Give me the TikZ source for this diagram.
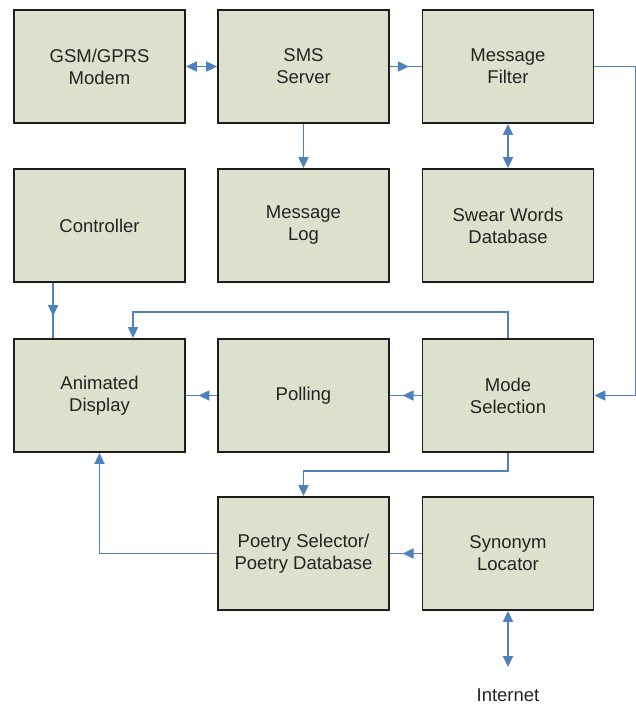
\documentclass[tikz,border=0pt]{standalone}
\usepackage{fontspec}
\setmainfont{Liberation Sans}
\usetikzlibrary{arrows.meta,decorations.markings,calc}
\definecolor{boxfill}{RGB}{221,224,204}
\definecolor{boxline}{RGB}{30,30,30}
\definecolor{connblue}{RGB}{79,129,189}
\definecolor{txt}{RGB}{35,35,35}
\begin{document}
\begin{tikzpicture}[x=1pt,y=-1pt,
  blk/.style={draw=boxline,fill=boxfill,line width=1.8pt,minimum width=171pt,minimum height=113pt,
    inner sep=0pt,align=center,font=\fontsize{18.5}{22}\selectfont,text=txt},
  conn/.style={draw=connblue,line width=1.8pt},
  tipend/.style={-{Triangle[length=11pt,width=10pt]}},
  tipboth/.style={{Triangle[length=11pt,width=10pt]}-{Triangle[length=11pt,width=10pt]}},
  midarrow/.style={decoration={markings,mark=at position 0.6 with {\arrow{Triangle[length=11pt,width=10pt]}}},postaction={decorate}}
]
\useasboundingbox (0,0) rectangle (636,704);
% row 1
\node[blk] (gsm) at (99.5,66.5) {GSM/GPRS\\Modem};
\node[blk] (sms) at (303.5,66.5) {SMS\\Server};
\node[blk] (filter) at (508,66.5) {Message\\Filter};
% row 2
\node[blk] (ctrl) at (99.5,225.5) {Controller};
\node[blk] (log) at (303.5,225.5) {Message\\Log};
\node[blk] (swear) at (508,225.5) {Swear Words\\Database};
% row 3
\node[blk] (anim) at (99.5,395.5) {Animated\\Display};
\node[blk] (poll) at (303.5,395.5) {Polling};
\node[blk] (mode) at (508,395.5) {Mode\\Selection};
% row 4
\node[blk] (poetry) at (303.5,553.5) {Poetry Selector/\\Poetry Database};
\node[blk] (syn) at (508,553.5) {Synonym\\Locator};
\node[font=\fontsize{18.5}{22}\selectfont,text=txt] (inet) at (508,695) {Internet};
\coordinate (inettop) at (508,667);
% connectors
\draw[conn,tipboth] (gsm.east) -- (sms.west);
\draw[conn,midarrow] (sms.east) -- (filter.west);
\draw[conn,tipend] (sms.south) -- (log.north);
\draw[conn,tipboth] (filter.south) -- (swear.north);
\draw[conn,tipend] (filter.east) -- ++(41,0) |- (mode.east);
\draw[conn,midarrow] ($(ctrl.south west)+(40,0)$) -- ($(anim.north west)+(40,0)$);
\coordinate (k1) at (133,312);
\draw[conn,tipend] (mode.north) |- (k1) -- (k1 |- anim.north);
\draw[conn,midarrow] (poll.west) -- (anim.east);
\draw[conn,midarrow] (mode.west) -- (poll.east);
\draw[conn,tipend] (mode.south) -- ++(0,18) -| (poetry.north);
\draw[conn,tipend] (poetry.west) -| (anim.south);
\draw[conn,midarrow] (syn.west) -- (poetry.east);
\draw[conn,tipboth] (syn.south) -- (inettop);
\end{tikzpicture}
\end{document}
